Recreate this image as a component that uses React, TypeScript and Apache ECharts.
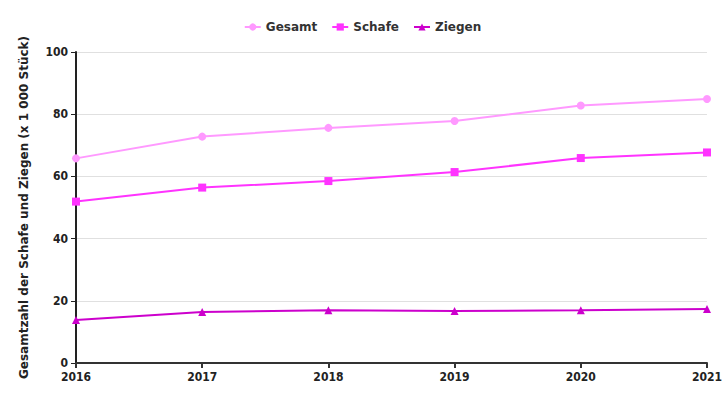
import React, { useEffect, useRef } from "react";
import * as echarts from "echarts";

const years = ["2016", "2017", "2018", "2019", "2020", "2021"];
const gesamt = [65.8, 72.8, 75.6, 77.8, 82.8, 84.9];
const schafe = [51.9, 56.4, 58.5, 61.4, 65.9, 67.7];
const ziegen = [13.8, 16.4, 17.0, 16.7, 17.0, 17.4];
const yTitle = "Gesamtzahl der Schafe und Ziegen (x 1 000 Stück)";

const FONT = "DejaVu Sans";

export default function App() {
  const ref = useRef<HTMLDivElement>(null);
  useEffect(() => {
    if (!ref.current) return;
    const chart = echarts.init(ref.current, undefined, { renderer: "svg" });
    const mk = (name: string, data: number[], color: string, symbol: string, size: number) => ({
      name,
      type: "line",
      data,
      symbol,
      symbolSize: size,
      showSymbol: true,
      lineStyle: { color, width: 2 },
      itemStyle: { color },
    });
    chart.setOption({
      animation: false,
      backgroundColor: "#ffffff",
      textStyle: { fontFamily: FONT },
      legend: {
        top: 16,
        left: "center",
        itemWidth: 16,
        itemHeight: 9,
        itemGap: 14,
        textStyle: { fontFamily: FONT, fontWeight: "bold", fontSize: 12, color: "#333333" },
        data: ["Gesamt", "Schafe", "Ziegen"],
      },
      grid: { left: 76, right: 14, top: 52, bottom: 37 },
      xAxis: {
        type: "category",
        data: years,
        boundaryGap: false,
        axisLine: { lineStyle: { color: "#333333", width: 2 } },
        axisTick: { show: true, lineStyle: { color: "#333333", width: 2 }, length: 5 },
        axisLabel: {
          color: "#222222",
          fontFamily: "DejaVu Sans Condensed",
          fontWeight: "bold",
          fontSize: 12,
          margin: 8,
        },
      },
      yAxis: {
        type: "value",
        min: 0,
        max: 100,
        interval: 20,
        name: yTitle,
        nameLocation: "middle",
        nameGap: 46,
        nameTextStyle: { fontFamily: FONT, fontWeight: "bold", fontSize: 12, color: "#222222" },
        axisLine: { show: true, lineStyle: { color: "#222222", width: 2 } },
        axisTick: { show: true, lineStyle: { color: "#222222", width: 1 }, length: 5 },
        axisLabel: {
          color: "#222222",
          fontFamily: "DejaVu Sans Condensed",
          fontWeight: "bold",
          fontSize: 12,
          margin: 8,
        },
        splitLine: { lineStyle: { color: "#e0e0e0", width: 1 } },
      },
      series: [
        mk("Gesamt", gesamt, "#ff99ff", "circle", 8),
        mk("Schafe", schafe, "#ff33ff", "rect", 8),
        mk("Ziegen", ziegen, "#cc00cc", "triangle", 8),
      ],
    });
    return () => chart.dispose();
  }, []);
  return <div ref={ref} style={{ width: 725, height: 400, position: "absolute", left: 0, top: 0 }} />;
}
